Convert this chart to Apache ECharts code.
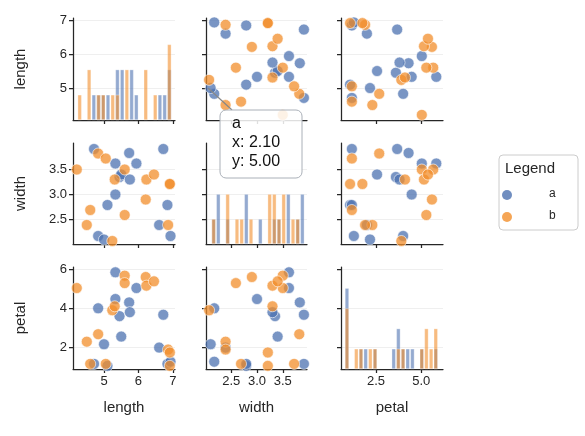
<!DOCTYPE html>
<html><head><meta charset="utf-8">
<script src="https://cdn.jsdelivr.net/npm/echarts@6/dist/echarts.min.js"></script>
<style>html,body{margin:0;padding:0;background:#fff}#c{width:585px;height:436px}</style>
</head><body><div id="c"></div>
<script>
const varNames = ['length','width','petal'];
const aLength = [4.71,4.83,5.0,5.1,5.33,5.33,5.45,5.5,5.73,5.75,5.94,6.6,6.72,6.84,6.93];
const aWidth  = [3.91,2.17,2.1,2.79,3.62,3.0,3.35,3.4,3.83,3.30,3.62,2.39,3.91,2.79,2.17];
const aPetal  = [1.17,4.0,2.17,1.07,5.83,4.47,3.6,2.56,4.3,3.8,5.03,2.0,3.67,1.17,1.28];
const bLength = [4.21,4.5,4.6,4.83,5.05,5.24,5.31,5.6,5.6,6.21,6.23,6.45,6.86,6.91,6.91];
const bWidth  = [3.5,2.39,2.69,3.82,3.72,2.07,3.3,3.5,2.59,2.9,3.3,3.4,2.39,3.21,3.21];
const bPetal  = [5.03,2.3,1.17,2.68,1.17,3.9,4.1,5.66,5.28,5.59,5.15,5.37,1.9,1.07,1.75];
const lenHistA = [0,0,0,1,1,1,1,0,2,2,0,2,1,0,0,0,0,1,1,2];
const lenHistB = [1,0,2,0,1,1,0,1,1,0,2,0,0,0,2,0,1,0,0,3];
const widHistA = [1,2,0,1,0,0,0,2,0,0,1,0,0,1,1,0,2,0,1,2];
const widHistB = [1,0,0,2,0,1,1,0,1,0,0,0,2,2,1,2,0,1,1,0];
const petHistA = [4,0,0,1,1,0,1,0,0,0,1,2,1,1,1,0,1,0,0,1];
const petHistB = [3,0,1,1,0,1,1,0,0,0,0,1,1,0,0,0,1,2,1,2];
const binStart = [4.225, 2.113, 0.77];
const binWidth = [0.137, 0.0906, 0.258];
const ticksLen = [5,6,7], ticksWid = [2.5,3.0,3.5], ticksPet = [2.5,5.0], ticksPetY = [2,4,6];

const A = [aLength,aWidth,aPetal], B = [bLength,bWidth,bPetal];
const histA = [lenHistA,widHistA,petHistA], histB = [lenHistB,widHistB,petHistB];
const ranges = [[4.1,7.06],[2.01,3.97],[0.57,6.2]];
const yRanges = [[4.06,7.06],[2.01,4.03],[0.91,6.1]];
const countMax = [4.05,4.05,5.05];
const xTicks = [ticksLen,ticksWid,ticksPet];
const yTicks = [ticksLen,ticksWid,ticksPetY];
const colL = [73,206,341], colW = [102,101,102];
const rowT = [18,143,267], rowH = [102,101,102];
const BLUE = '#4c72b0', ORANGE = '#f28e2b', INK = '#262626', FF = 'Liberation Sans';

const grid=[], xAxis=[], yAxis=[], series=[];
function fmt(v,ticks){ if(ticks.some(t=>Math.abs(t-v)<1e-6)){ return ticks.some(t=>t%1!==0)? v.toFixed(1) : String(v);} return ''; }
function tickAxis(min, max, ticks, gi, showLabel, name, extra){
  return Object.assign({
    type:'value', gridIndex:gi, min:min, max:max,
    axisLine:{show:true,lineStyle:{color:INK,width:1.25}},
    axisTick:{show:true,length:4,lineStyle:{color:INK,width:1.25},customValues:ticks},
    axisLabel:{show:showLabel,color:INK,fontSize:13,fontFamily:FF,customValues:ticks,
      formatter:v=>fmt(v,ticks), margin:6},
    splitLine:{show:false},
    name: showLabel?name:'', nameLocation:'middle', nameTextStyle:{color:INK,fontSize:15,fontFamily:FF}
  }, extra||{});
}
let gi=0;
for(let r=0;r<3;r++) for(let c=0;c<3;c++){
  grid.push({left:colL[c],top:rowT[r],width:colW[c],height:rowH[r]});
  const xi = xAxis.length;
  xAxis.push(tickAxis(ranges[c][0],ranges[c][1],xTicks[c],gi,r===2,varNames[c],{nameGap:31}));
  const yi = yAxis.length;
  const ya = tickAxis(yRanges[r][0],yRanges[r][1],yTicks[r],gi,c===0,varNames[r],{nameGap:45});
  ya.splitLine = {show:true,lineStyle:{color:'#efefef',width:1}};
  yAxis.push(ya);
  if(r===c){
    const ci = yAxis.length;
    yAxis.push({type:'value',gridIndex:gi,min:0,max:countMax[r],show:false,splitLine:{show:false}});
    const mk = h => h.map((v,i)=>[binStart[c]+binWidth[c]*(i+0.5),v]).filter(d=>d[1]>0);
    series.push({type:'bar',xAxisIndex:xi,yAxisIndex:ci,data:mk(histA[c]),barWidth:4,barGap:'-100%',
      itemStyle:{color:BLUE,opacity:0.6,borderColor:'#fff',borderWidth:0.5},silent:true});
    series.push({type:'bar',xAxisIndex:xi,yAxisIndex:ci,data:mk(histB[c]),barWidth:4,barGap:'-100%',
      itemStyle:{color:ORANGE,opacity:0.6,borderColor:'#fff',borderWidth:0.5},silent:true});
  } else {
    const pts = (G)=>G[c].map((v,i)=>[v,G[r][i]]);
    series.push({type:'scatter',xAxisIndex:xi,yAxisIndex:yi,data:pts(A),symbolSize:11,
      itemStyle:{color:BLUE,opacity:0.75,borderColor:'#fff',borderWidth:0.8},silent:true});
    series.push({type:'scatter',xAxisIndex:xi,yAxisIndex:yi,data:pts(B),symbolSize:11,
      itemStyle:{color:ORANGE,opacity:0.75,borderColor:'#fff',borderWidth:0.8},silent:true});
  }
  gi++;
}
const chart = echarts.init(document.getElementById('c'),null,{renderer:'canvas'});
chart.setOption({animation:false,grid,xAxis,yAxis,series,
  graphic:[
    {type:'line',shape:{x1:208,y1:88,x2:232,y2:110},style:{stroke:'#888',lineWidth:1.2},z:50},
    {type:'rect',shape:{x:220,y:110,width:82,height:68,r:6},style:{fill:'rgba(255,255,255,0.85)',stroke:'#aab0b8',lineWidth:1},z:60},
    {type:'text',x:232,y:114,style:{text:'a\nx: 2.10\ny: 5.00',fontSize:16,lineHeight:19,fill:'#111',fontFamily:FF},z:61},
    {type:'rect',shape:{x:499,y:155,width:79,height:75,r:4},style:{fill:'#fff',stroke:'#ccc',lineWidth:1},z:60},
    {type:'text',x:505,y:161,style:{text:'Legend',fontSize:15,fill:INK,fontFamily:FF},z:61},
    {type:'circle',shape:{cx:507,cy:195,r:5},style:{fill:BLUE,opacity:0.8},z:61},
    {type:'circle',shape:{cx:507,cy:217,r:5},style:{fill:ORANGE,opacity:0.8},z:61},
    {type:'text',x:549,y:188,style:{text:'a',fontSize:12,fill:INK,fontFamily:FF},z:61},
    {type:'text',x:549,y:210,style:{text:'b',fontSize:12,fill:INK,fontFamily:FF},z:61}
  ]});
</script></body></html>
